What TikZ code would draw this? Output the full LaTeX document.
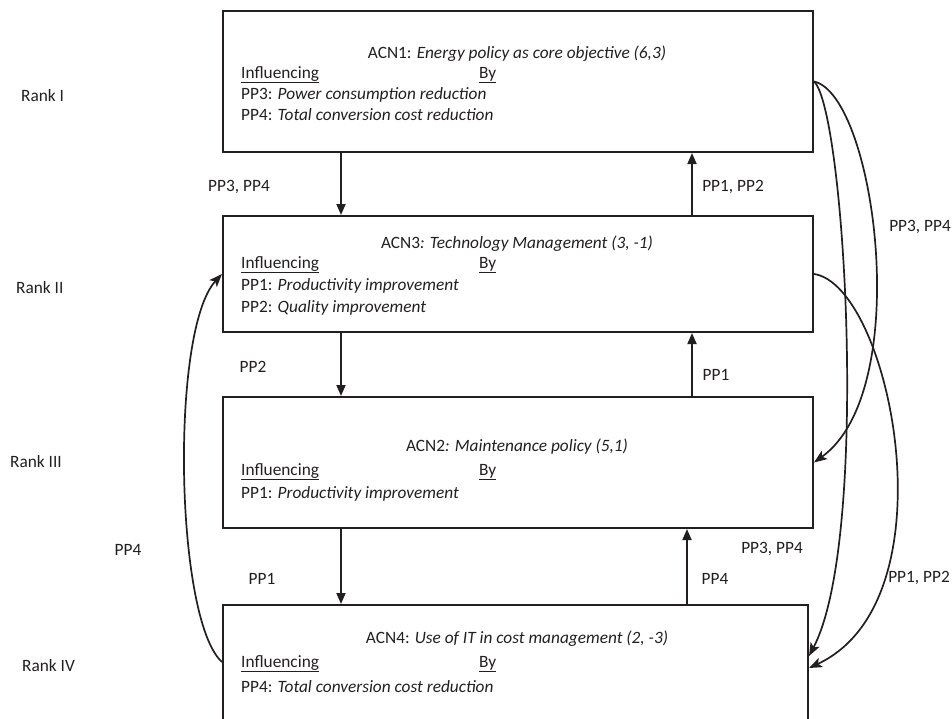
\documentclass[tikz,border=0pt]{standalone}
\usepackage{fontspec}
\setmainfont{Carlito}
\usetikzlibrary{arrows.meta}
\definecolor{ink}{HTML}{231F20}
\tikzset{
  every node/.style={font=\fontsize{17.3}{20}\selectfont, text=ink},
  box/.style={draw=ink, line width=2pt, inner sep=0pt, anchor=north west},
  txt/.style={anchor=base west, inner sep=0pt},
  ttl/.style={anchor=base, inner sep=0pt},
  lbl/.style={inner sep=1pt},
  arr/.style={draw=ink, line width=1.8pt, -{Triangle[length=11pt,width=9pt]}},
  carr/.style={draw=ink, line width=1.7pt, -{Stealth[length=13pt,width=10pt,inset=3pt]}}
}
\begin{document}
\begin{tikzpicture}[x=1pt,y=-1pt]
\useasboundingbox (0,0) rectangle (952,718);
\clip (0,0) rectangle (952,718);
% boxes
\node[box, minimum width=590pt, minimum height=141pt] (acn1) at (222,10) {};
\node[box, minimum width=590pt, minimum height=116pt] (acn3) at (222,215) {};
\node[box, minimum width=590pt, minimum height=131pt] (acn2) at (222,396) {};
\node[box, minimum width=585pt, minimum height=136pt] (acn4) at (222,604) {};
% ACN1 text
\node[ttl] (t1) at (517,58) {ACN1: \textit{Energy policy as core objective (6,3)}};
\node[txt] (i1) at (241,78) {\underline{Influencing}};
\node[txt] (b1) at (479,78) {\underline{By}};
\node[txt] (p13) at (241,99) {PP3: \textit{Power consumption reduction}};
\node[txt] (p14) at (241,120) {PP4: \textit{Total conversion cost reduction}};
% ACN3 text
\node[ttl] (t3) at (517,248) {ACN3\textit{: Technology Management (3, -1)}};
\node[txt] (i3) at (241,268) {\underline{Influencing}};
\node[txt] (b3) at (479,268) {\underline{By}};
\node[txt] (p31) at (241,290) {PP1: \textit{Productivity improvement}};
\node[txt] (p32) at (241,312) {PP2: \textit{Quality improvement}};
% ACN2 text
\node[ttl] (t2) at (517,451) {ACN2\textit{: Maintenance policy (5,1)}};
\node[txt] (i2) at (241,475) {\underline{Influencing}};
\node[txt] (b2) at (479,475) {\underline{By}};
\node[txt] (p21) at (241,498) {PP1: \textit{Productivity improvement}};
% ACN4 text
\node[ttl] (t4) at (517,643) {ACN4: \textit{Use of IT in cost management (2, -3)}};
\node[txt] (i4) at (241,667) {\underline{Influencing}};
\node[txt] (b4) at (479,667) {\underline{By}};
\node[txt] (p44) at (241,692) {PP4: \textit{Total conversion cost reduction}};
% rank labels
\node[lbl, anchor=west] (r1) at (20,96) {Rank I};
\node[lbl, anchor=west] (r2) at (15,288) {Rank II};
\node[lbl, anchor=west] (r3) at (9,462) {Rank III};
\node[lbl, anchor=west] (r4) at (21,666) {Rank IV};
% vertical arrows
\coordinate (xl) at (341,0);
\coordinate (xr) at (692,0);
\coordinate (xr4) at (687,0);
\draw[arr] (xl |- acn1.south) -- (xl |- acn3.north);
\draw[arr] (xr |- acn3.north) -- (xr |- acn1.south);
\draw[arr] (xl |- acn3.south) -- (xl |- acn2.north);
\draw[arr] (xr |- acn2.north) -- (xr |- acn3.south);
\draw[arr] (xl |- acn2.south) -- (xl |- acn4.north);
\draw[arr] (xr4 |- acn4.north) -- (xr4 |- acn2.south);
% labels of vertical arrows
\node[lbl] (l1) at (239,187) {PP3, PP4};
\node[lbl] (l2) at (733,187) {PP1, PP2};
\node[lbl] (l3) at (253,367) {PP2};
\node[lbl] (l4) at (716,375) {PP1};
\node[lbl] (l5) at (262,579) {PP1};
\node[lbl] (l6) at (715,579) {PP4};
\node[lbl] (l7) at (772,549) {PP3, PP4};
% curved arrows
\coordinate (ya) at (0,656);
\coordinate (yb) at (0,668);
\coordinate (yc) at (0,662);
\draw[carr] (acn1.east) .. controls (875,95) and (915,390) .. (acn2.east);
\draw[carr] (acn1.east) .. controls (845,110) and (870,540) .. (acn4.east |- ya);
\draw[carr] (acn3.east) .. controls (890,285) and (955,600) .. (acn4.east |- yb);
\draw[carr] (acn4.west |- yc) .. controls (175,620) and (170,330) .. (acn3.west);
\node[lbl] (l8) at (920,227) {PP3, PP4};
\node[lbl] (l9) at (919,578) {PP1, PP2};
\node[lbl] (l10) at (128,550) {PP4};
\end{tikzpicture}
\end{document}
